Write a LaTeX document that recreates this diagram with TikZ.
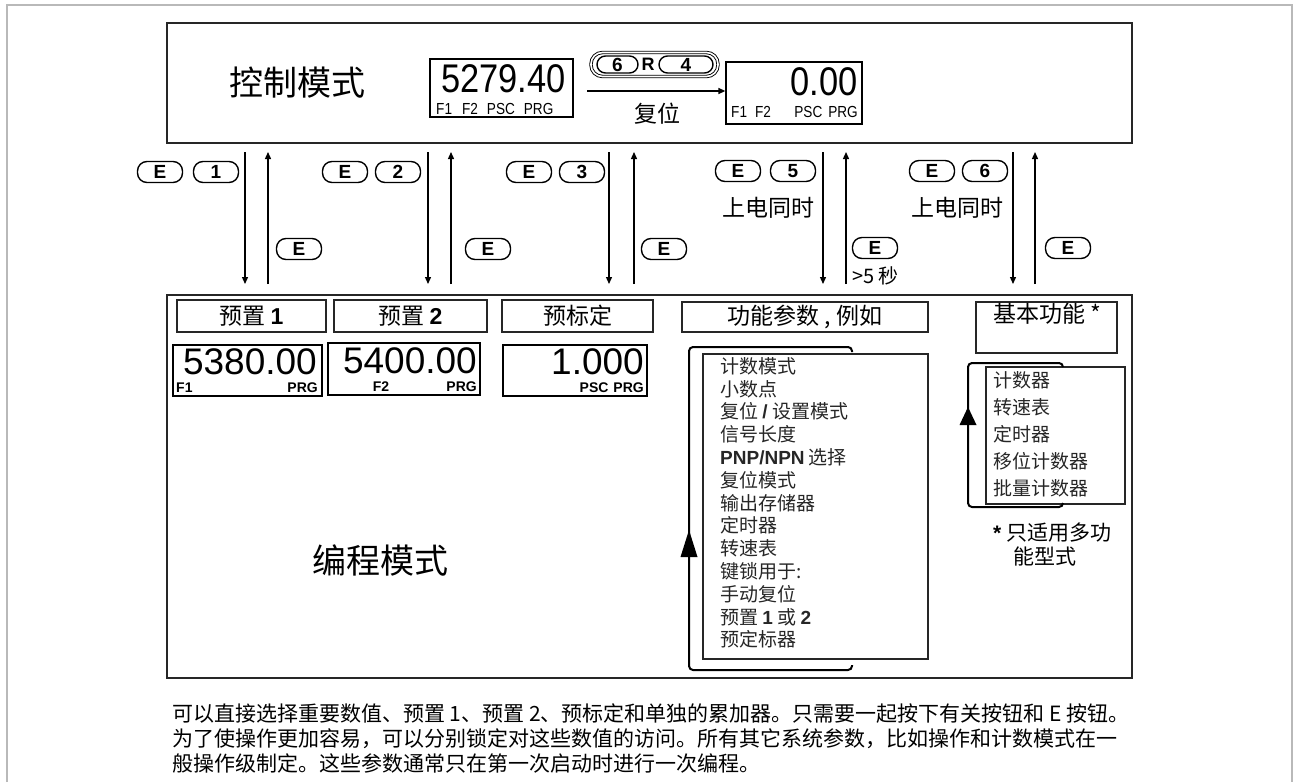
\documentclass[tikz,border=0pt]{standalone}
\usepackage{fontspec}
\setmainfont{Noto Sans CJK SC}
\newfontfamily\latinf{Liberation Sans}
\newfontfamily\segtop{Liberation Sans}[FakeStretch=0.86]
\newfontfamily\segbot{Liberation Sans}[FakeStretch=1.0]
\newfontfamily\narrowf{Liberation Sans}[FakeStretch=0.85]
\usetikzlibrary{arrows.meta}
\newcommand\fsz[1]{\fontsize{#1}{#1}\selectfont}
\tikzset{
  box/.style={draw=black!85, line width=1.4pt, inner sep=0pt},
  lblbox/.style={draw=black!85, line width=1.2pt, inner sep=0pt},
  disp/.style={draw=black, line width=1.3pt, inner sep=0pt},
  txt/.style={inner sep=0pt},
  keyb/.style={draw, line width=1.4pt, rounded corners=9.5pt, minimum width=45pt, minimum height=21pt, inner sep=0pt, font=\latinf\bfseries\fsz{19}},
  varr/.style={line width=1.3pt, -{Triangle[length=7pt,width=6pt]}},
  brk/.style={line width=2pt, rounded corners=4pt},
  item/.style={inner sep=0pt, anchor=west, text=black!85, font=\fsz{19}},
}
\begin{document}
\begin{tikzpicture}[x=1pt,y=-1pt]
\useasboundingbox (0,0) rectangle (1295,782);
% outer frame
\draw[gray!55, line width=1.5pt] (7,782) -- (7,5) -- (1292,5) -- (1292,782);

% main boxes
\node[box, minimum width=965pt, minimum height=120pt] (ctrl) at (649.5,83) {};
\node[box, minimum width=965pt, minimum height=383pt] (prog) at (649.5,486.5) {};

% control mode
\node[txt, font=\fsz{34}] (ctrltxt) at (297,83) {控制模式};
\node[disp, minimum width=143pt, minimum height=58pt] (d1) at (501.5,88) {};
\node[txt, anchor=east, font=\segtop\fsz{40}] (d1num) at (566,79) {5279.40};
\node[txt, anchor=west, font=\narrowf\fsz{16}] (d1lab) at (436,109) {F1\hspace{10pt}F2\hspace{9pt}PSC\hspace{9pt}PRG};

\node[draw, double, double distance=1.6pt, line width=0.9pt, rounded corners=11.5pt, minimum width=127pt, minimum height=24pt, inner sep=0pt] (ov) at (654.5,64.5) {};
\node[keyb, rounded corners=8.5pt, minimum width=41pt, minimum height=17pt] (k6) at (617.5,64.5) {6};
\node[txt, font=\latinf\bfseries\fsz{18}] (kr) at (648,64.5) {R};
\node[keyb, rounded corners=8.5pt, minimum width=54pt, minimum height=17pt] (k4) at (686,64.5) {4};

\node[disp, minimum width=136pt, minimum height=62pt] (d2) at (794,93) {};
\node[txt, anchor=east, font=\segtop\fsz{40}] (d2num) at (858,82) {0.00};
\node[txt, anchor=west, font=\narrowf\fsz{16}] (d2labl) at (731,112) {F1\hspace{8pt}F2};
\node[txt, anchor=east, font=\narrowf\fsz{16}] (d2labr) at (858,112) {PSC\hspace{6pt}PRG};

\coordinate (ra) at (587,91);
\draw[line width=1.3pt, -{Triangle[length=7pt,width=6pt]}] (ra) -- (ra -| d2.west);
\node[txt, font=\fsz{23}] (reset) at (657,114) {复位};

% vertical arrows
\foreach \i/\xd/\xu in {1/245/268, 2/428/451, 3/609/634, 4/823/846, 5/1013/1035} {
  \coordinate (dt\i) at (\xd,152); \coordinate (db\i) at (\xd,284);
  \coordinate (ut\i) at (\xu,152); \coordinate (ub\i) at (\xu,284);
  \draw[varr] (dt\i) -- (db\i);
  \draw[varr] (ub\i) -- (ut\i);
}

% keys
\node[keyb] (e1) at (160,172) {E};
\node[keyb] (n1) at (216,172) {1};
\node[keyb] (e2) at (345,172) {E};
\node[keyb] (n2) at (398,172) {2};
\node[keyb] (e3) at (529,172) {E};
\node[keyb] (n3) at (582,172) {3};
\node[keyb] (e5) at (738,171) {E};
\node[keyb] (n5) at (793,171) {5};
\node[keyb] (e6) at (932,171) {E};
\node[keyb] (n6) at (985,171) {6};
\node[txt, font=\fsz{23}] (p5) at (768,208) {上电同时};
\node[txt, font=\fsz{23}] (p6) at (957,208) {上电同时};

\node[keyb] (r1) at (299,249) {E};
\node[keyb] (r2) at (488,249) {E};
\node[keyb] (r3) at (664,249) {E};
\node[keyb] (r4) at (875,248) {E};
\node[keyb] (r5) at (1068,248) {E};
\node[txt, anchor=west, font=\fsz{20}] (gt5) at (852,276) {>5 秒};

% programming mode labels
\node[lblbox, minimum width=149pt, minimum height=32pt] (l1) at (251.5,316) {};
\node[txt, font=\fsz{23}] at (l1) {预置 {\latinf\bfseries 1}};
\node[lblbox, minimum width=153pt, minimum height=32pt] (l2) at (410.5,316) {};
\node[txt, font=\fsz{23}] at (l2) {预置 {\latinf\bfseries 2}};
\node[lblbox, minimum width=151pt, minimum height=32pt] (l3) at (577.5,316) {};
\node[txt, font=\fsz{23}] at (l3) {预标定};
\node[lblbox, minimum width=246pt, minimum height=30pt] (l4) at (805,317) {};
\node[txt, font=\fsz{23}] at (l4) {功能参数 , 例如};
\node[lblbox, minimum width=141pt, minimum height=51pt] (l5) at (1046.5,327.5) {};
\node[txt, font=\fsz{23}] (l5t) at (1047,314) {基本功能 *};

% bottom displays
\node[disp, minimum width=149pt, minimum height=51pt] (b1) at (247.5,370.5) {};
\node[txt, anchor=east, font=\segbot\fsz{37}] (b1num) at (317,362) {5380.00};
\node[txt, anchor=west, font=\latinf\bfseries\fsz{14}] (b1f) at (176,388) {F1};
\node[txt, anchor=east, font=\latinf\bfseries\fsz{14}] (b1p) at (318,388) {PRG};

\node[disp, minimum width=152pt, minimum height=52pt] (b2) at (404,369) {};
\node[txt, anchor=east, font=\segbot\fsz{37}] (b2num) at (477,361) {5400.00};
\node[txt, font=\latinf\bfseries\fsz{14}] (b2f) at (381,387) {F2};
\node[txt, anchor=east, font=\latinf\bfseries\fsz{14}] (b2p) at (477,387) {PRG};

\node[disp, minimum width=144pt, minimum height=51pt] (b3) at (575,370.5) {};
\node[txt, anchor=east, font=\segbot\fsz{37}] (b3num) at (644,362) {1.000};
\node[txt, anchor=east, font=\latinf\bfseries\fsz{14}] (b3p) at (644,388) {PSC\hspace{5pt}PRG};

% function list
\node[lblbox, minimum width=225pt, minimum height=305pt] (fl) at (815.5,506.5) {};
\draw[brk] (852,352) -- (852,347) -- (689,347) -- (689,670) -- (852,670) -- (852,665);
\fill (689,530) -- (697.5,557) -- (680.5,557) -- cycle;
\node[item] (f1) at (720,366) {计数模式};
\node[item] (f2) at (720,388.8) {小数点};
\node[item] (f3) at (720,411.6) {复位 {\latinf\bfseries /} 设置模式};
\node[item] (f4) at (720,434.4) {信号长度};
\node[item] (f5) at (720,457.2) {{\latinf\bfseries PNP/NPN} 选择};
\node[item] (f6) at (720,480) {复位模式};
\node[item] (f7) at (720,502.8) {输出存储器};
\node[item] (f8) at (720,525.6) {定时器};
\node[item] (f9) at (720,548.4) {转速表};
\node[item] (f10) at (720,571.2) {键锁用于:};
\node[item] (f11) at (720,594) {手动复位};
\node[item] (f12) at (720,616.8) {预置 {\latinf\bfseries 1} 或 {\latinf\bfseries 2}};
\node[item] (f13) at (720,639.6) {预定标器};

% basic functions list
\node[lblbox, minimum width=139pt, minimum height=137pt] (bl) at (1055.5,435.5) {};
\draw[brk] (1063,367) -- (1063,363) -- (968,363) -- (968,507) -- (1063,507) -- (1063,503);
\fill (968,407) -- (976.5,425) -- (959.5,425) -- cycle;
\node[item] (g1) at (993,380) {计数器};
\node[item] (g2) at (993,407) {转速表};
\node[item] (g3) at (993,434) {定时器};
\node[item] (g4) at (993,461) {移位计数器};
\node[item] (g5) at (993,488) {批量计数器};

\node[txt, anchor=west, font=\fsz{21}] (note1) at (993,533) {{\latinf\bfseries *} 只适用多功};
\node[txt, anchor=west, font=\fsz{21}] (note2) at (1013,557) {能型式};

\node[txt, font=\fsz{34}] (progtxt) at (380,561) {编程模式};

% bottom text
\node[txt, anchor=west, font=\fsz{21}] (t1) at (172,714) {可以直接选择重要数值、预置 1、预置 2、预标定和单独的累加器。只需要一起按下有关按钮和 E 按钮。};
\node[txt, anchor=west, font=\fsz{21}] (t2) at (172,739) {为了使操作更加容易，可以分别锁定对这些数值的访问。所有其它系统参数，比如操作和计数模式在一};
\node[txt, anchor=west, font=\fsz{21}] (t3) at (172,763) {般操作级制定。这些参数通常只在第一次启动时进行一次编程。};
\end{tikzpicture}
\end{document}
